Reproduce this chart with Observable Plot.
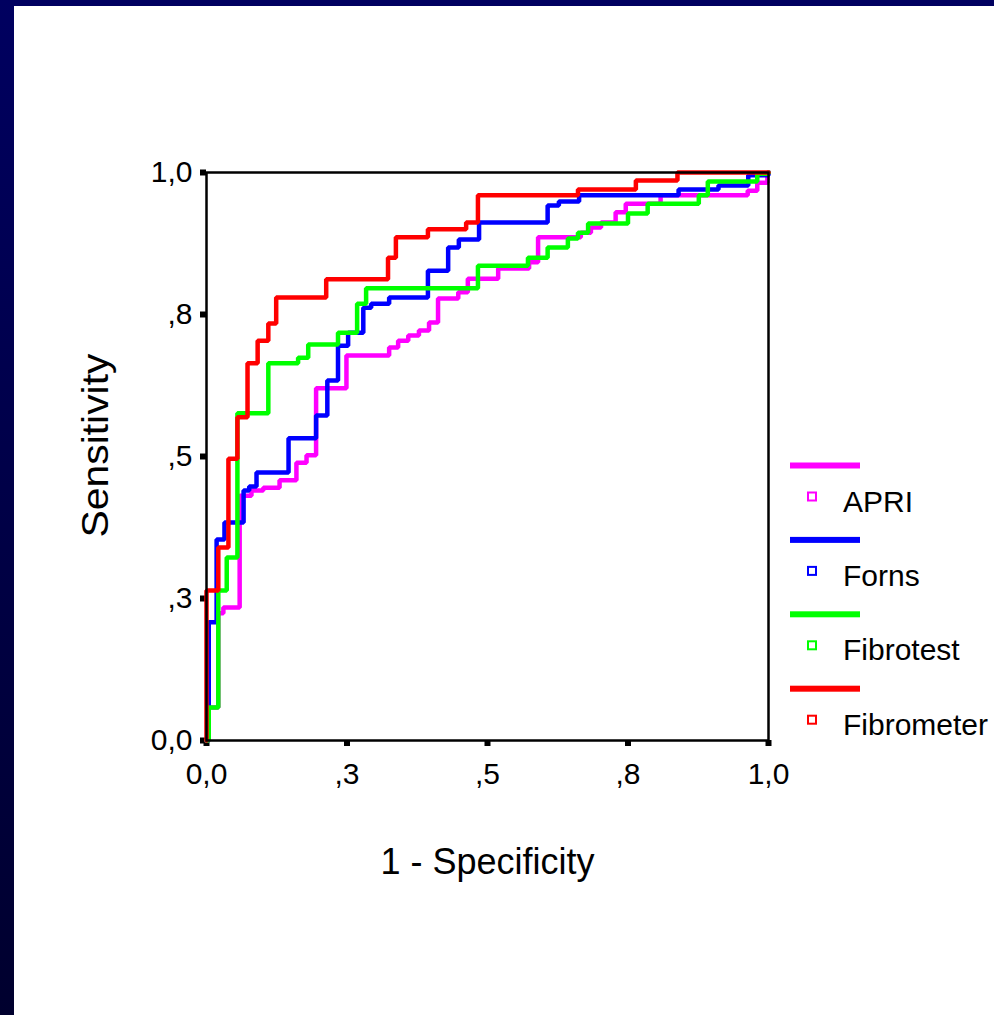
<!DOCTYPE html>
<html><head><meta charset="utf-8">
<script src="https://cdn.jsdelivr.net/npm/d3@7"></script>
<script src="https://cdn.jsdelivr.net/npm/@observablehq/plot@0.6"></script>
<style>
html,body{margin:0;padding:0;background:#fff;}
#page{position:relative;width:994px;height:1015px;overflow:hidden;background:#fff;font-family:"Liberation Sans",Arial,sans-serif;}
#topbar{position:absolute;left:0;top:0;width:994px;height:6px;background:#000060;}
#leftbar{position:absolute;left:0;top:0;width:14px;height:1015px;background:linear-gradient(#000060,#00002e);}
#chart{position:absolute;left:0;top:0;}
#legend{position:absolute;left:0;top:0;}
</style></head>
<body><div id="page"><div id="chart"></div><div id="legend"></div><div id="topbar"></div><div id="leftbar"></div></div>
<script>
// Series (drawn in this order; Fibrometer on top)
const seriesNames = ["APRI", "Forns", "Fibrotest", "Fibrometer"];
const seriesColors = ["#ff00ff", "#0000ff", "#00ff00", "#ff0000"];

// Staircase corners: 1 - specificity (fpr) and sensitivity (tpr)
const apriFpr = [0, 0.004, 0.021, 0.030, 0.059, 0.080, 0.101, 0.130, 0.160, 0.178, 0.195, 0.249, 0.325, 0.341, 0.359, 0.378, 0.396, 0.412, 0.448, 0.465, 0.519, 0.574, 0.590, 0.666, 0.684, 0.702, 0.728, 0.746, 0.808, 0.963, 0.980, 0.998, 1.0];
const apriTpr = [0, 0.058, 0.224, 0.234, 0.431, 0.440, 0.445, 0.458, 0.489, 0.502, 0.620, 0.678, 0.692, 0.704, 0.713, 0.722, 0.736, 0.778, 0.789, 0.813, 0.831, 0.842, 0.886, 0.894, 0.903, 0.912, 0.930, 0.945, 0.960, 0.968, 0.982, 0.998, 1.0];

const fornsFpr = [0, 0.004, 0.018, 0.032, 0.066, 0.076, 0.089, 0.146, 0.195, 0.215, 0.234, 0.252, 0.279, 0.293, 0.325, 0.394, 0.430, 0.449, 0.485, 0.607, 0.627, 0.663, 0.840, 0.911, 0.964, 1.0];
const fornsTpr = [0, 0.208, 0.354, 0.384, 0.440, 0.447, 0.472, 0.532, 0.572, 0.634, 0.695, 0.718, 0.762, 0.769, 0.780, 0.827, 0.868, 0.882, 0.912, 0.942, 0.949, 0.960, 0.970, 0.977, 0.995, 1.0];

const fibrotestFpr = [0, 0.004, 0.021, 0.036, 0.055, 0.110, 0.163, 0.181, 0.234, 0.268, 0.284, 0.483, 0.572, 0.607, 0.643, 0.661, 0.679, 0.750, 0.785, 0.876, 0.892, 0.980, 1.0];
const fibrotestTpr = [0, 0.058, 0.264, 0.322, 0.576, 0.664, 0.674, 0.697, 0.718, 0.769, 0.796, 0.836, 0.850, 0.868, 0.884, 0.894, 0.910, 0.928, 0.945, 0.960, 0.984, 0.998, 1.0];

const fibrometerFpr = [0, 0, 0.021, 0.039, 0.055, 0.073, 0.091, 0.110, 0.124, 0.213, 0.323, 0.337, 0.394, 0.462, 0.483, 0.661, 0.764, 0.838, 1.0];
const fibrometerTpr = [0, 0.264, 0.340, 0.496, 0.569, 0.664, 0.704, 0.734, 0.780, 0.812, 0.850, 0.886, 0.900, 0.912, 0.960, 0.970, 0.986, 1.0, 1.0];

const xTicks = [0, 0.25, 0.5, 0.75, 1];
const xTickLabels = ["0,0", ",3", ",5", ",8", "1,0"];
const yTicks = [0, 0.25, 0.5, 0.75, 1];
const yTickLabels = ["0,0", ",3", ",5", ",8", "1,0"];

const xTitle = "1 - Specificity";
const yTitle = "Sensitivity";

const seriesFpr = [apriFpr, fornsFpr, fibrotestFpr, fibrometerFpr];
const seriesTpr = [apriTpr, fornsTpr, fibrotestTpr, fibrometerTpr];
const rows = [];
seriesNames.forEach((name, k) => {
  seriesFpr[k].forEach((x, i) => rows.push({series: name, fpr: x, tpr: seriesTpr[k][i]}));
});

const font = "'Liberation Sans', Arial, sans-serif";
const chart = Plot.plot({
  width: 994,
  height: 1015,
  marginLeft: 206,
  marginRight: 226,
  marginTop: 172,
  marginBottom: 275,
  style: {fontFamily: font, color: "black", background: "transparent", overflow: "visible"},
  x: {domain: [0, 1]},
  y: {domain: [0, 1]},
  color: {domain: seriesNames, range: seriesColors},
  marks: [
    Plot.axisX({ticks: xTicks, tickFormat: d => xTickLabels[xTicks.indexOf(d)], tickSize: 6, tickPadding: 16, fontSize: 30, strokeWidth: 6, label: null}),
    Plot.axisY({ticks: yTicks, tickFormat: d => yTickLabels[yTicks.indexOf(d)], tickSize: 6, tickPadding: 8, fontSize: 30, strokeWidth: 6, label: null}),
    Plot.line(rows, {x: "fpr", y: "tpr", z: "series", stroke: "series", strokeWidth: 4.5, curve: "step-after", strokeLinejoin: "miter", clip: false}),
    Plot.frame({stroke: "black", strokeWidth: 2.5}),
    Plot.text([xTitle], {frameAnchor: "bottom", dy: 133.5, lineAnchor: "bottom", textAnchor: "middle", fontSize: 36, fill: "black"}),
    Plot.text([yTitle], {frameAnchor: "left", dx: -99, dy: -11, rotate: -90, lineAnchor: "bottom", textAnchor: "middle", fontSize: 36, fill: "black"})
  ]
});
document.getElementById("chart").appendChild(chart);
d3.select(chart).selectAll("text").filter(function() { return this.textContent === yTitle; })
  .attr("textLength", 184).attr("lengthAdjust", "spacingAndGlyphs");

// Legend
const leg = d3.select("#legend").append("svg").attr("width", 994).attr("height", 1015)
  .style("font-family", font);
seriesNames.forEach((name, i) => {
  const yc = 465.5 + 74.4 * i;
  leg.append("rect").attr("x", 790).attr("y", yc - 3).attr("width", 70).attr("height", 6).attr("fill", seriesColors[i]);
  leg.append("rect").attr("x", 808).attr("y", yc + 27).attr("width", 8).attr("height", 8)
    .attr("fill", "white").attr("stroke", seriesColors[i]).attr("stroke-width", 2);
  leg.append("text").attr("x", 843).attr("y", yc + 46).attr("font-size", 30).attr("fill", "black").text(name);
});
</script>
</body></html>
